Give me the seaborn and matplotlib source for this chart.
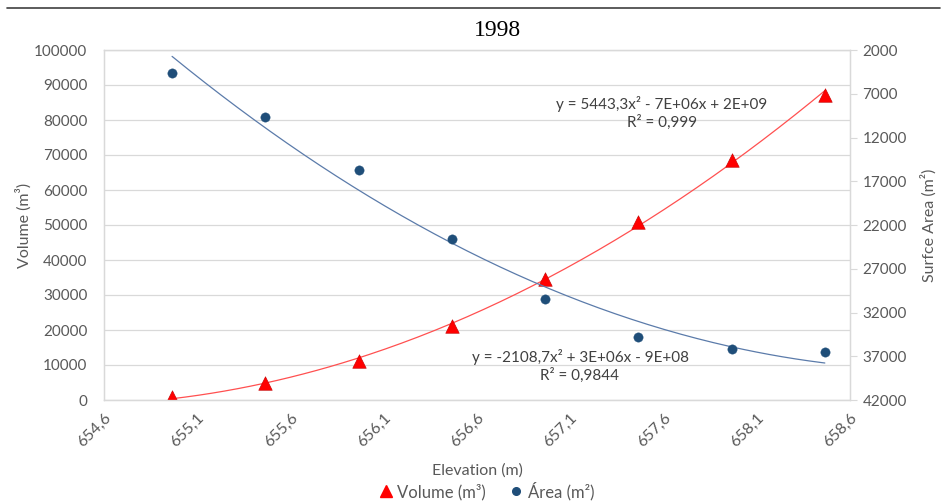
import numpy as np
import pandas as pd
import matplotlib
matplotlib.use("Agg")
import matplotlib.pyplot as plt
import seaborn as sns
from matplotlib.lines import Line2D
from matplotlib.ticker import FixedLocator, FuncFormatter
import matplotlib.transforms as mtransforms

sns.set_theme(style="white")
plt.rcParams['font.family'] = ['Lato', 'DejaVu Sans']

# ---- data ----
elevation = [654.965, 655.465, 655.965, 656.465, 656.965, 657.465, 657.965, 658.465]
volume = [1000, 4800, 11100, 21100, 34500, 51000, 68700, 87200]
area = [4600, 9600, 15700, 23600, 30500, 34800, 36200, 36500]
x_ticks = [654.6, 655.1, 655.6, 656.1, 656.6, 657.1, 657.6, 658.1, 658.6]
vol_ticks = list(range(0, 100001, 10000))
area_ticks = list(range(2000, 42001, 5000))
title = "1998"
eq_volume = "y = 5443,3x² - 7E+06x + 2E+09\nR² = 0,999"
eq_area = "y = -2108,7x² + 3E+06x - 9E+08\nR² = 0,9844"

df = pd.DataFrame({"Elevation": elevation, "Volume": volume, "Area": area})

# polynomial trend lines (order 2) fitted from data
xs = np.linspace(min(elevation), max(elevation), 200)
pv = np.polyfit(elevation, volume, 2)
pa = np.polyfit(elevation, area, 2)
trend = pd.DataFrame({"x": xs, "vol": np.polyval(pv, xs), "area": np.polyval(pa, xs)})

RED = "#FF0000"
BLUE = "#1F4E79"
TXT = "#595959"
GRID = "#D9D9D9"

fig = plt.figure(figsize=(9.52, 5.03), dpi=100)
ax = fig.add_axes([104/952, 1-400/503, (850-104)/952, 350/503])
ax2 = ax.twinx()

sns.lineplot(data=trend, x="x", y="vol", ax=ax, color="#FF5050", linewidth=0.9, zorder=2)
sns.scatterplot(data=df, x="Elevation", y="Volume", ax=ax, marker="^", s=95,
                color=RED, edgecolor="#C00000", linewidth=0.4, zorder=3)
sns.lineplot(data=trend, x="x", y="area", ax=ax2, color="#5B7BAA", linewidth=0.9, zorder=2)
sns.scatterplot(data=df, x="Elevation", y="Area", ax=ax2, marker="o", s=45,
                color=BLUE, edgecolor=BLUE, linewidth=0.3, zorder=3)

ax.set_xlim(654.6, 658.6)
ax.set_ylim(0, 100000)
ax2.set_ylim(42000, 2000)

ax.xaxis.set_major_locator(FixedLocator(x_ticks))
ax.xaxis.set_major_formatter(FuncFormatter(lambda v, p: f"{v:.1f}".replace(".", ",")))
ax.set_yticks(vol_ticks)
ax.yaxis.set_major_formatter(FuncFormatter(lambda v, p: f"{int(v)}"))
ax2.set_yticks(area_ticks)
ax2.yaxis.set_major_formatter(FuncFormatter(lambda v, p: f"{int(v)}"))

offset = mtransforms.ScaledTranslation(6/100, -4/100, fig.dpi_scale_trans)
for lab in ax.get_xticklabels():
    lab.set_rotation(45)
    lab.set_ha("right")
    lab.set_rotation_mode("anchor")
    lab.set_transform(lab.get_transform() + offset)

ax.grid(axis="y", color=GRID, linewidth=0.9)
ax.set_axisbelow(True)
ax.tick_params(axis="x", length=0, labelsize=11.5, labelcolor=TXT, pad=8)
ax.tick_params(axis="y", length=0, labelsize=11, labelcolor=TXT, pad=12)
ax2.tick_params(axis="y", length=5, width=0.8, color=GRID, labelsize=11, labelcolor=TXT, pad=4, direction="out")

for a in (ax, ax2):
    for sp in a.spines.values():
        sp.set_color(GRID)
        sp.set_linewidth(0.9)

ax.set_xlabel("Elevation (m)", fontsize=11.5, color=TXT)
ax.set_ylabel("Volume (m³)", fontsize=11.5, color=TXT)
ax2.set_ylabel("Surfce Area (m²)", fontsize=11.5, color=TXT)
ax.xaxis.set_label_coords(0.5, -0.18)
ax.yaxis.set_label_coords(-72/746, 0.5)
ax2.yaxis.set_label_coords(1 + 70/746, 0.5)

ax.text(662/952, 1-113/503, eq_volume, transform=fig.transFigure, ha="center", va="center",
        fontsize=11, color="#404040", linespacing=1.2)
ax.text(580/952, 1-366/503, eq_area, transform=fig.transFigure, ha="center", va="center",
        fontsize=11, color="#404040", linespacing=1.2)

fig.text(497/952, 1-31/503, title, ha="center", va="center", fontsize=17,
         family="Liberation Serif", color="black")

fig.add_artist(Line2D([7/952, 940/952], [1-8/503, 1-8/503], color="#404040", linewidth=1.2))

handles = [Line2D([], [], linestyle="none", marker="^", markersize=8, color=RED),
           Line2D([], [], linestyle="none", marker="o", markersize=5.5, color=BLUE)]
leg = fig.legend(handles, ["Volume (m³)", "Área (m²)"], loc="center", ncol=2,
                 bbox_to_anchor=(485/952, 1-491/503), frameon=False, fontsize=12,
                 handletextpad=0.1, columnspacing=1.2, handlelength=1.2)
for t in leg.get_texts():
    t.set_color(TXT)

fig.savefig("out.png", dpi=100)
